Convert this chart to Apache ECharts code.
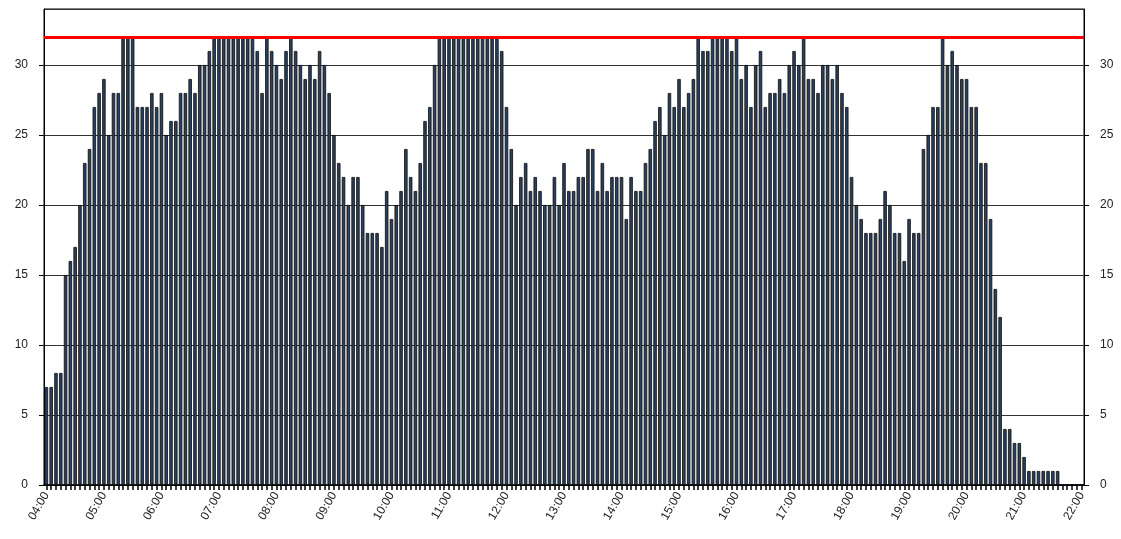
<!DOCTYPE html>
<html>
<head>
<meta charset="utf-8">
<script src="https://cdn.jsdelivr.net/npm/echarts@6/dist/echarts.min.js"></script>
<style>
  html, body { margin: 0; padding: 0; background: #fff; }
  #main { width: 1121px; height: 539px; }
</style>
</head>
<body>
<div id="main"></div>
<script>
// counts per 5 minutes, one array per hour
const h04 = [7, 7, 8, 8, 15, 16, 17, 20, 23, 24, 27, 28];
const h05 = [29, 25, 28, 28, 32, 32, 32, 27, 27, 27, 28, 27];
const h06 = [28, 25, 26, 26, 28, 28, 29, 28, 30, 30, 31, 32];
const h07 = [32, 32, 32, 32, 32, 32, 32, 32, 31, 28, 32, 31];
const h08 = [30, 29, 31, 32, 31, 30, 29, 30, 29, 31, 30, 28];
const h09 = [25, 23, 22, 20, 22, 22, 20, 18, 18, 18, 17, 21];
const h10 = [19, 20, 21, 24, 22, 21, 23, 26, 27, 30, 32, 32];
const h11 = [32, 32, 32, 32, 32, 32, 32, 32, 32, 32, 32, 31];
const h12 = [27, 24, 20, 22, 23, 21, 22, 21, 20, 20, 22, 20];
const h13 = [23, 21, 21, 22, 22, 24, 24, 21, 23, 21, 22, 22];
const h14 = [22, 19, 22, 21, 21, 23, 24, 26, 27, 25, 28, 27];
const h15 = [29, 27, 28, 29, 32, 31, 31, 32, 32, 32, 32, 31];
const h16 = [32, 29, 30, 27, 30, 31, 27, 28, 28, 29, 28, 30];
const h17 = [31, 30, 32, 29, 29, 28, 30, 30, 29, 30, 28, 27];
const h18 = [22, 20, 19, 18, 18, 18, 19, 21, 20, 18, 18, 16];
const h19 = [19, 18, 18, 24, 25, 27, 27, 32, 30, 31, 30, 29];
const h20 = [29, 27, 27, 23, 23, 19, 14, 12, 4, 4, 3, 3];
const h21 = [2, 1, 1, 1, 1, 1, 1, 1, 0, 0, 0, 0];
const h22 = [0];

const limit = 32;
const yTicks = [0, 5, 10, 15, 20, 25, 30];

const counts = [].concat(h04, h05, h06, h07, h08, h09, h10, h11, h12, h13,
  h14, h15, h16, h17, h18, h19, h20, h21, h22);

// time labels 04:00 .. 22:00 every 5 minutes
const times = [];
for (let m = 4 * 60; m <= 22 * 60; m += 5) {
  const hh = String(Math.floor(m / 60)).padStart(2, '0');
  const mm = String(m % 60).padStart(2, '0');
  times.push(hh + ':' + mm);
}

const chart = echarts.init(document.getElementById('main'));

const labelStyle = {
  color: '#222',
  fontFamily: 'Liberation Sans, Arial, sans-serif',
  fontSize: 12
};

const yAxisBase = {
  type: 'value',
  min: 0,
  max: 34,
  interval: 5,
  axisLine: { show: true, lineStyle: { color: '#000', width: 1 } },
  axisTick: { show: true, length: 5, lineStyle: { color: '#000' } },
  splitLine: { show: true, lineStyle: { color: '#333', width: 1 } },
  axisLabel: Object.assign({
    margin: 16,
    showMaxLabel: false,
    formatter: function (v) { return yTicks.indexOf(v) >= 0 ? String(v) : ''; }
  }, labelStyle)
};

chart.setOption({
  animation: false,
  backgroundColor: '#fff',
  grid: {
    left: 44, right: 37, top: 9, bottom: 54,
    show: true, borderColor: '#000', borderWidth: 1
  },
  xAxis: {
    type: 'category',
    data: times,
    axisLine: { show: true, lineStyle: { color: '#000', width: 1.5 } },
    axisTick: {
      show: true, interval: 0, alignWithLabel: true, length: 5,
      lineStyle: { color: '#000', width: 1.5 }
    },
    axisLabel: Object.assign({ interval: 11, rotate: 60, margin: 8 }, labelStyle),
    splitLine: { show: false }
  },
  yAxis: [
    Object.assign({ position: 'left' }, yAxisBase),
    Object.assign({ position: 'right' }, yAxisBase, {
      splitLine: { show: false }
    })
  ],
  series: [{
    type: 'bar',
    data: counts,
    barWidth: '72%',
    itemStyle: {
      color: '#2a405c',
      borderColor: '#0b0b0b',
      borderWidth: 0.8
    },
    markLine: {
      silent: true,
      symbol: ['none', 'none'],
      label: { show: false },
      lineStyle: { color: '#ff0000', width: 3, type: 'solid' },
      data: [{ yAxis: limit }]
    }
  }]
});
</script>
</body>
</html>
